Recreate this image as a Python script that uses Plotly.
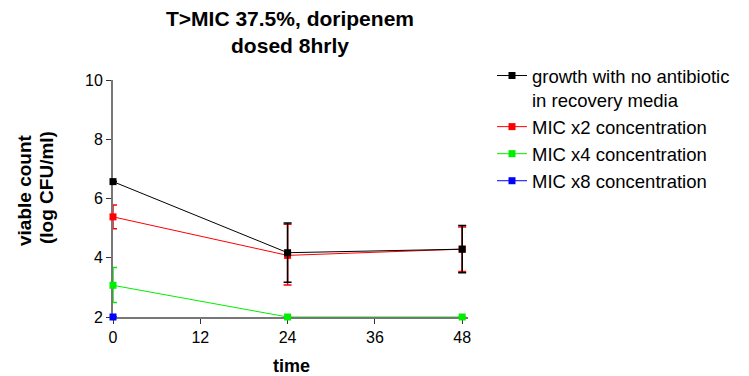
import plotly.graph_objects as go

time = [0, 24, 48]
names = ["growth with no antibiotic<br>in recovery media", "MIC x2 concentration",
         "MIC x4 concentration", "MIC x8 concentration"]
growth = [6.57, 4.17, 4.29]
growth_err_plus = [0, 1.0, 0.8]
growth_err_minus = [0, 1.0, 0.8]
mic2 = [5.38, 4.08, 4.29]
mic2_err_plus = [0.4, 1.05, 0.75]
mic2_err_minus = [0.4, 1.0, 0.75]
mic4 = [3.07, 2.0, 2.0]
mic4_err_plus = [0.6, 0, 0]
mic4_err_minus = [0.58, 0, 0]
mic8 = [2.0, None, None]

title_text = "T>MIC 37.5%, doripenem<br>dosed 8hrly"
x_title = "time"
y_title_lines = ["viable count", "(log CFU/ml)"]

colors = ["#000000", "#ff0000", "#00ee00", "#0000ff"]
series = [(growth, growth_err_plus, growth_err_minus),
          (mic2, mic2_err_plus, mic2_err_minus),
          (mic4, mic4_err_plus, mic4_err_minus),
          (mic8, [0, 0, 0], [0, 0, 0])]

# Plot area in screen pixels (page has an 8px body margin)
PL, PR, PT, PB = 113, 468, 80, 317
def px(xs):
    return (xs - PL) / (PR - PL)
def py(ys):
    return (PB - ys) / (PB - PT)

fig = go.Figure()
for i in [3, 2, 1, 0]:
    y, ep, em = series[i]
    fig.add_trace(go.Scatter(
        x=time, y=y, name=names[i], mode="lines+markers",
        line=dict(color=colors[i], width=1),
        marker=dict(symbol="square", size=7, color=colors[i]),
        error_y=dict(type="data", array=ep, arrayminus=em, symmetric=False,
                     color=colors[i], thickness=1.5, width=4),
        cliponaxis=False, legendrank=i + 1,
    ))

bold = dict(family="Liberation Sans, Arial", color="black")
annotations = [
    dict(text="<b>%s</b>" % title_text, x=px(290), y=py(32), font=dict(size=21, **bold)),
    dict(text="<b>%s</b>" % x_title, x=px(291), y=py(366), font=dict(size=18, **bold)),
    dict(text="<b>%s</b>" % y_title_lines[0], x=px(24), y=py(190), textangle=-90, font=dict(size=19, **bold)),
    dict(text="<b>%s</b>" % y_title_lines[1], x=px(46), y=py(188), textangle=-90, font=dict(size=19, **bold)),
]
for a in annotations:
    a.update(xref="paper", yref="paper", showarrow=False, xanchor="center", yanchor="middle")

fig.update_layout(
    width=741, height=368,
    margin=dict(l=PL - 8, r=749 - PR, t=PT - 8, b=376 - PB, autoexpand=False),
    paper_bgcolor="white", plot_bgcolor="white",
    font=dict(family="Liberation Sans, Arial", size=16, color="black"),
    annotations=annotations,
    legend=dict(x=px(492), y=py(57), xanchor="left", yanchor="top", valign="top",
                font=dict(size=18.5), tracegroupgap=0, itemwidth=30,
                bgcolor="rgba(0,0,0,0)"),
    xaxis=dict(range=[0, 48.8], tickvals=[0, 12, 24, 36, 48], showgrid=False, zeroline=False,
               showline=True, linecolor="#777777", linewidth=2, ticks="outside",
               tickcolor="#333333", ticklen=5, tickwidth=1, layer="below traces",
               tickfont=dict(size=16)),
    yaxis=dict(range=[2, 10], tickvals=[2, 4, 6, 8, 10], showgrid=False, zeroline=False,
               showline=True, linecolor="#777777", linewidth=2, ticks="outside",
               tickcolor="#333333", ticklen=5, tickwidth=1, layer="below traces",
               tickfont=dict(size=16)),
)

fig.write_html("out.html")
